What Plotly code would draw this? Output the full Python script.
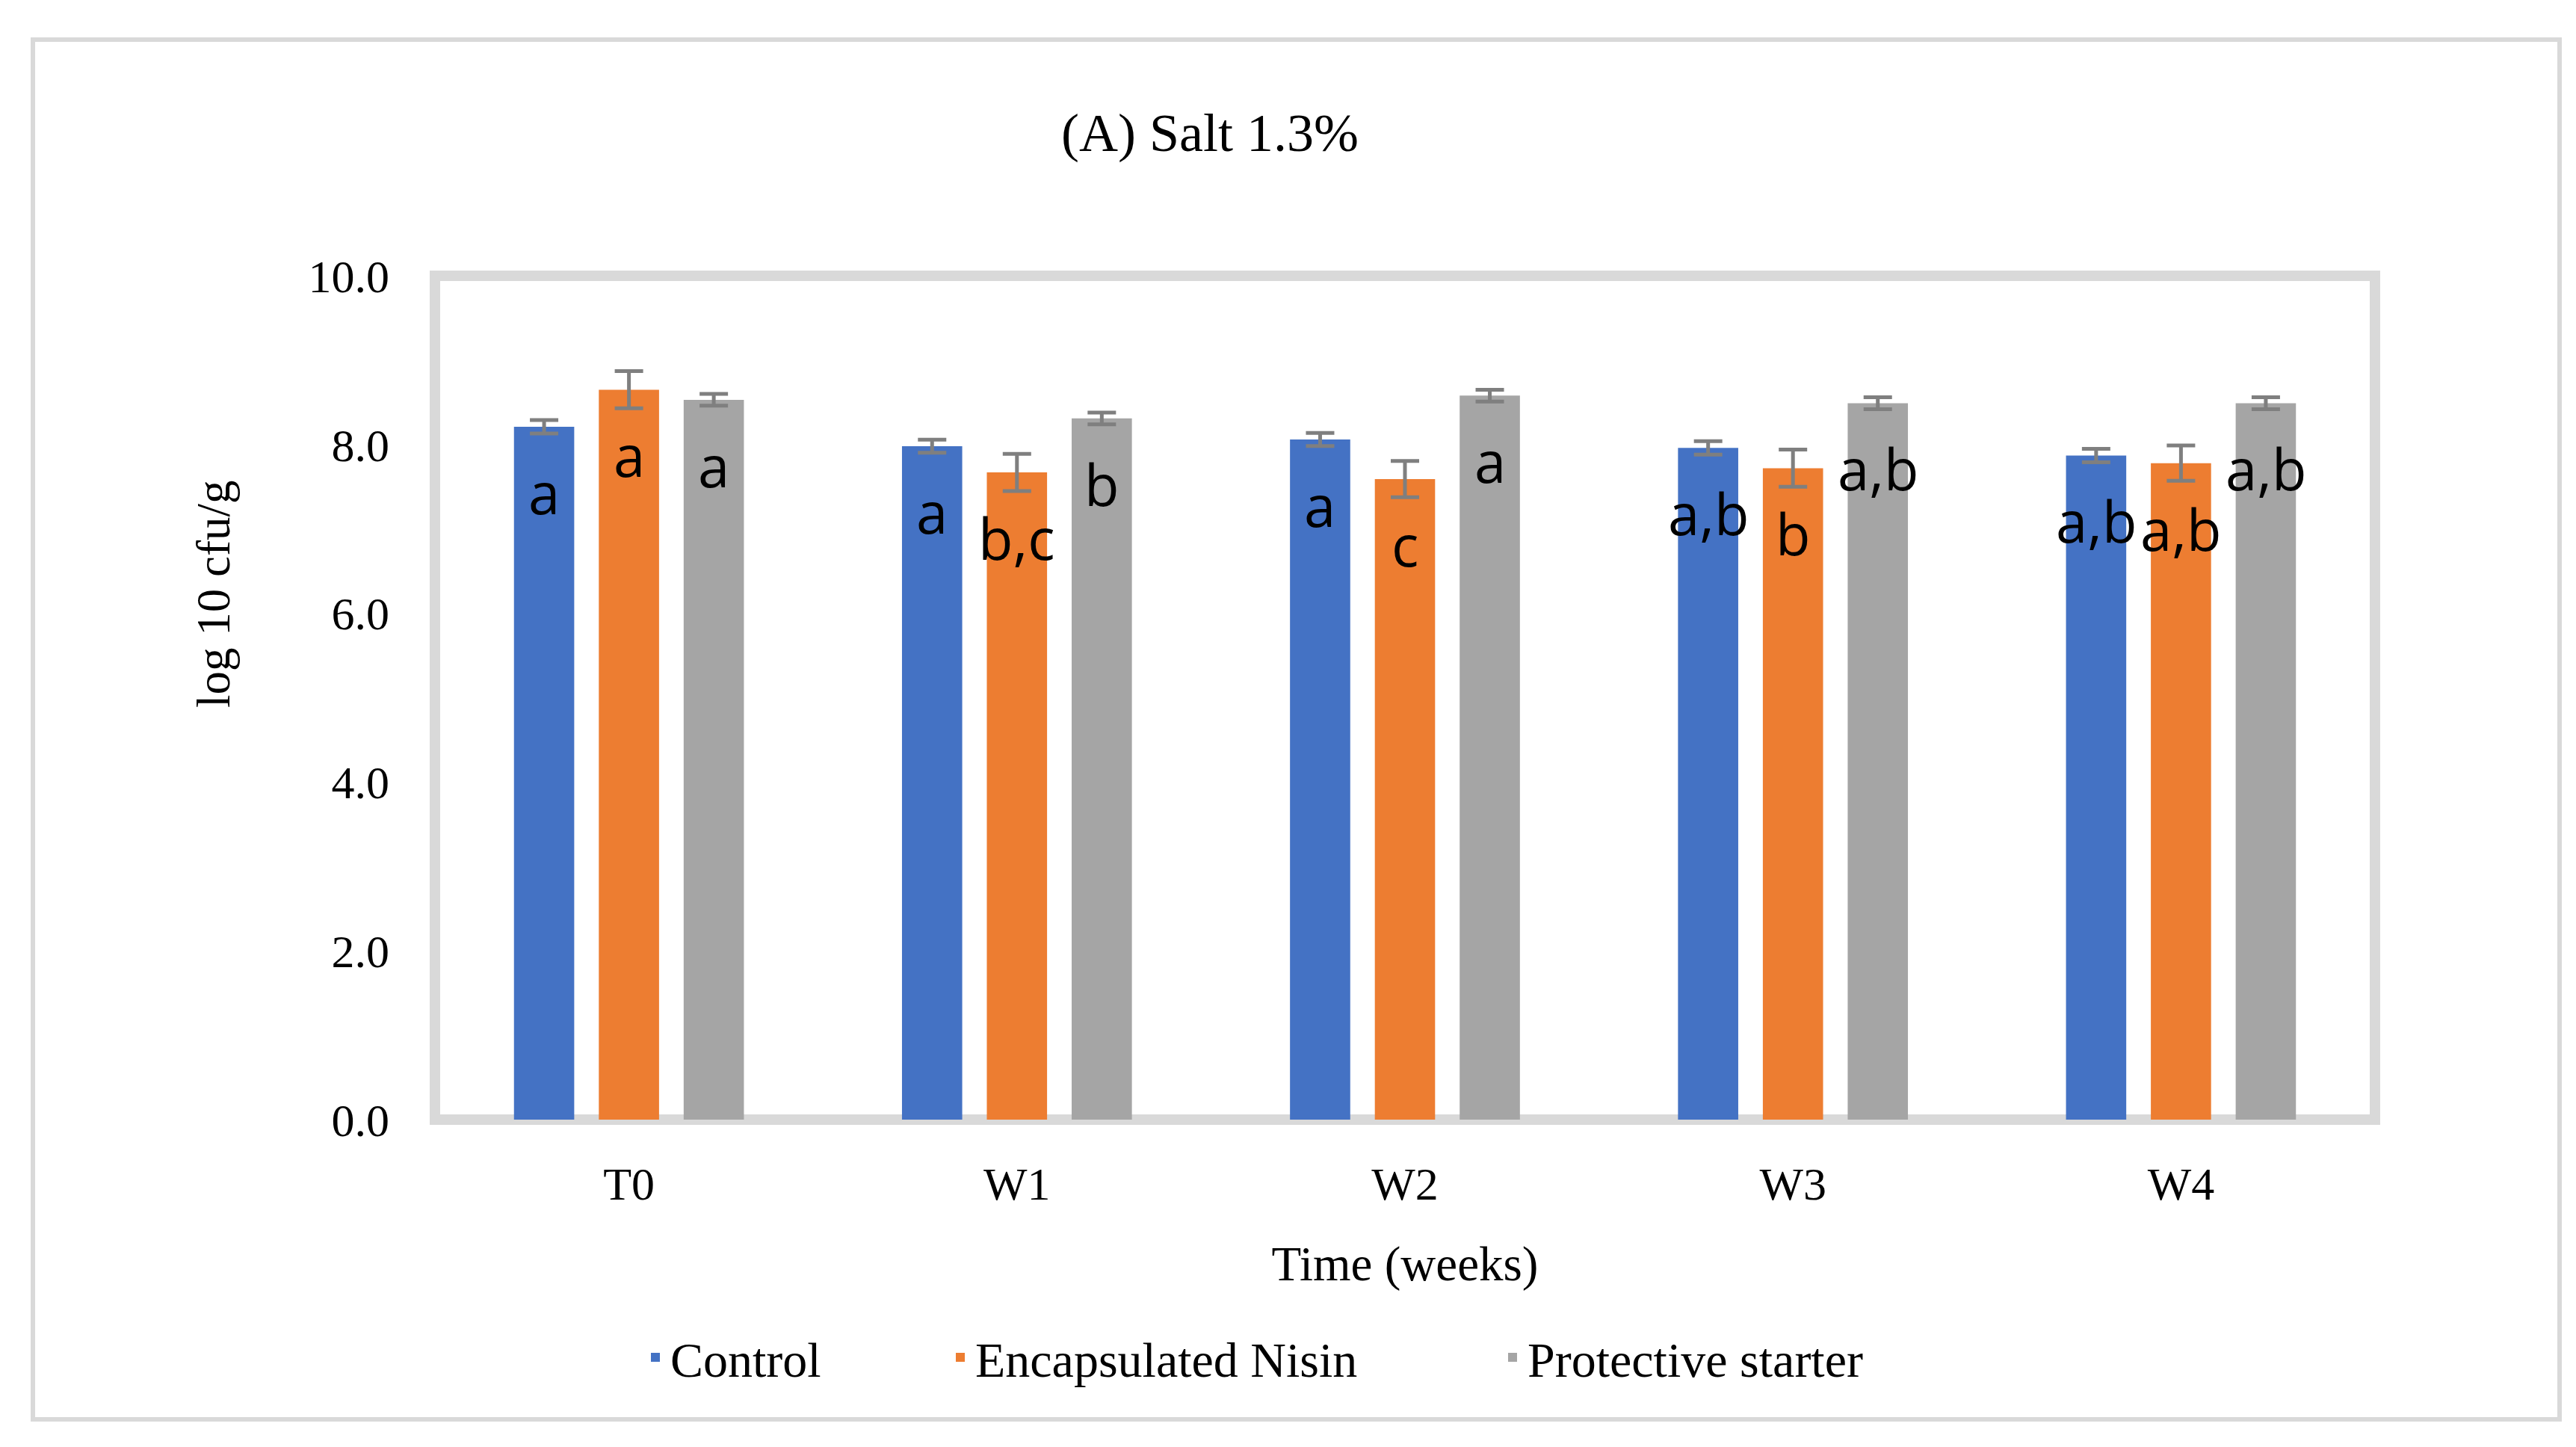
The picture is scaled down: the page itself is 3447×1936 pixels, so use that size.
import plotly.graph_objects as go

# ---- data ----
categories = ["T0", "W1", "W2", "W3", "W4"]
series_names = ["Control", "Encapsulated Nisin", "Protective starter"]
control = [8.21, 7.98, 8.06, 7.96, 7.87]
nisin = [8.65, 7.67, 7.59, 7.72, 7.78]
starter = [8.53, 8.31, 8.58, 8.49, 8.49]
control_err = [0.08, 0.077, 0.077, 0.08, 0.08]
nisin_err = [0.22, 0.22, 0.215, 0.22, 0.21]
starter_err = [0.07, 0.07, 0.07, 0.07, 0.07]
control_lbl = ["a", "a", "a", "a,b", "a,b"]
nisin_lbl = ["a", "b,c", "c", "b", "a,b"]
starter_lbl = ["a", "b", "a", "a,b", "a,b"]
y_ticks = [0, 2, 4, 6, 8, 10]

# ---- style ----
W, H = 3447, 1936
L, R, T, B = 582, 3178, 369, 1498          # plot area in px
BARGAP, BARGROUPGAP = 0.344, 0.29
colors = ["#4472C4", "#ED7D31", "#A5A5A5"]
SERIF = "Liberation Serif, Times New Roman, serif"
SANS = "Open Sans, Noto Sans, sans-serif"
FRAME = "#D9D9D9"

values = [control, nisin, starter]
errors = [control_err, nisin_err, starter_err]
labels = [control_lbl, nisin_lbl, starter_lbl]
legend_ids = ["legend", "legend2", "legend3"]
legend_x_px = [857, 1265, 2004]

fig = go.Figure()
for k in range(3):
    fig.add_trace(go.Bar(
        x=categories, y=values[k], name=series_names[k],
        marker=dict(color=colors[k], line=dict(width=0)),
        error_y=dict(type="data", array=errors[k], visible=True,
                     color="#7F7F7F", thickness=5, width=19),
        legend=legend_ids[k],
    ))

pw, ph = R - L, B - T

# letter labels inside bars
slot = (1 - BARGAP) / 3
annotations = []
for k in range(3):
    for i, cat in enumerate(categories):
        annotations.append(dict(
            x=i + (k - 1) * slot, y=values[k][i], xref="x", yref="y",
            text=labels[k][i], showarrow=False, yanchor="top", yshift=-34,
            font=dict(family=SANS, size=76, color="black"),
        ))

# y-axis title
annotations.append(dict(
    x=(286 - L) / pw, y=(B - 795) / ph, xref="paper", yref="paper",
    text="log 10 cfu/g", showarrow=False, textangle=-90,
    xanchor="center", yanchor="middle",
    font=dict(family=SERIF, size=63, color="black"),
))

shapes = [
    dict(type="rect", xref="paper", yref="paper", x0=0, x1=1, y0=0, y1=1,
         line=dict(color=FRAME, width=14), layer="below"),
    dict(type="rect", xref="paper", yref="paper",
         x0=(44 - L) / pw, x1=(3425 - L) / pw, y0=(B - 1899) / ph, y1=(B - 53) / ph,
         line=dict(color=FRAME, width=6), layer="below"),
]

layout_legends = {}
for k, lid in enumerate(legend_ids):
    layout_legends[lid] = dict(
        orientation="h", xref="container", yref="container",
        x=legend_x_px[k] / W, y=1 - 1816 / H, xanchor="left", yanchor="middle",
        font=dict(family=SERIF, size=66, color="black"),
        bgcolor="rgba(0,0,0,0)",
    )

fig.update_layout(
    width=W, height=H,
    margin=dict(l=L, r=W - R, t=T, b=H - B, autoexpand=False),
    paper_bgcolor="white", plot_bgcolor="white",
    barmode="group", bargap=BARGAP, bargroupgap=BARGROUPGAP,
    title=dict(text="(A) Salt 1.3%", x=1619 / W, xref="container", xanchor="center",
               y=1 - 177 / H, yref="container", yanchor="middle",
               font=dict(family=SERIF, size=72, color="black")),
    xaxis=dict(range=[-0.5, 4.5], showgrid=False, zeroline=False, showline=False,
               ticks="", ticklabelstandoff=44,
               tickfont=dict(family=SERIF, size=62, color="black"),
               title=dict(text="Time (weeks)", standoff=50,
                          font=dict(family=SERIF, size=65, color="black"))),
    yaxis=dict(range=[0, 10], tickvals=y_ticks, tickformat=".1f", showgrid=False,
               zeroline=False, showline=False, ticks="", ticklabelstandoff=60,
               tickfont=dict(family=SERIF, size=62, color="black")),
    annotations=annotations, shapes=shapes,
    showlegend=True,
    **layout_legends,
)

fig.write_html("out.html", config={"displayModeBar": False},
               post_script="document.body.style.margin='0px';")
